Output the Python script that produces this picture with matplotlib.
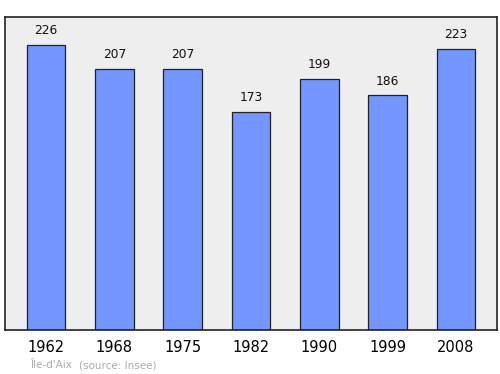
import matplotlib
matplotlib.use("Agg")
import matplotlib.pyplot as plt

years = ["1962", "1968", "1975", "1982", "1990", "1999", "2008"]
population = [226, 207, 207, 173, 199, 186, 223]

fig = plt.figure(figsize=(5.0, 3.74), dpi=100)
ax = fig.add_axes([5/500, 1 - 330/374, 492/500, 313/374])
ax.set_facecolor("#eeeeee")
x = list(range(len(years)))
ax.bar(x, population, width=0.57, color="#7396ff", edgecolor="#222222", linewidth=0.9, zorder=2)
for xi, v in zip(x, population):
    ax.text(xi, v + 11, str(v), ha="center", va="center", fontsize=8.8, color="#111111")
ax.set_xlim(-0.6, 6.6)
ax.set_ylim(0, 248)
ax.set_yticks([])
ax.set_xticks(x)
ax.set_xticklabels(years, fontsize=10.5)
ax.tick_params(axis="x", length=0, pad=7)
for s in ax.spines.values():
    s.set_color("#222222")
    s.set_linewidth(1.2)
fig.text(30/500, 1 - 365/374, "Île-d'Aix", fontsize=7.5, color="#aaaaaa", va="center", ha="left")
fig.text(79/500, 1 - 365/374, "(source: Insee)", fontsize=7.5, color="#aaaaaa", va="center", ha="left")
fig.savefig("out.png", dpi=100)
